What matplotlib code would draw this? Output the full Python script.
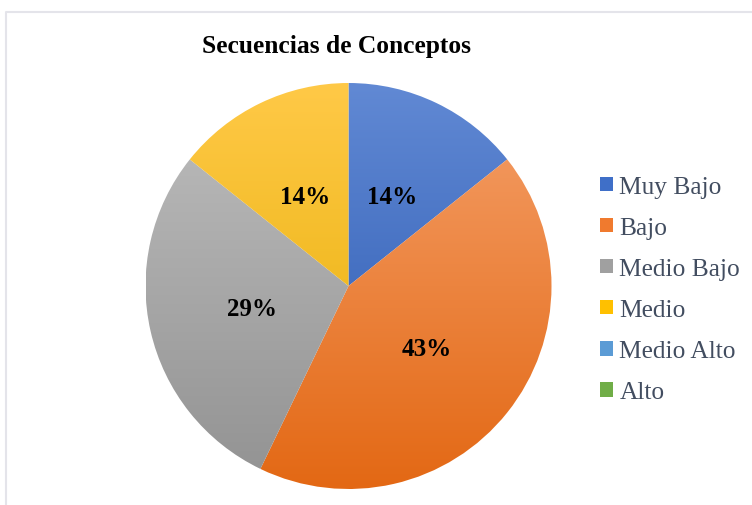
import matplotlib
matplotlib.use("Agg")
import matplotlib.pyplot as plt
import numpy as np
from matplotlib.colors import LinearSegmentedColormap, to_rgb
from matplotlib.patches import Patch
from matplotlib.lines import Line2D

title = "Secuencias de Conceptos"
categories = ["Muy Bajo", "Bajo", "Medio Bajo", "Medio", "Medio Alto", "Alto"]
values = [1, 3, 2, 1, 0, 0]
legend_colors = ["#3F6FC8", "#F07A2E", "#A0A0A0", "#FFC000", "#5B9BD5", "#70AD47"]
grad_top = ["#6189D4", "#F5A06A", "#BEBEBE", "#FFC947", "#7AAFE0", "#86BE60"]
grad_bot = ["#2655AE", "#E36814", "#929292", "#E4AC00", "#3E85C6", "#5C9A35"]

W, H = 752, 506
fig = plt.figure(figsize=(W / 100, H / 100), dpi=100)
fig.patch.set_facecolor("white")

# light frame
fy = 1 - 13 / H
fx = 6 / W
fig.add_artist(Line2D([fx, fx, 1.0], [0.0, fy, fy], transform=fig.transFigure,
                      color="#E4E4EA", lw=1.5))

cx, cy, r = 348.5, 287, 203
ax = fig.add_axes([(cx - r) / W, (H - cy - r) / H, 2 * r / W, 2 * r / H])

def fmt(p):
    return f"{p:.0f}%" if p > 0 else ""

wedges, texts, autotexts = ax.pie(values, startangle=90, counterclock=False,
                                  autopct=fmt, pctdistance=0.49, radius=1.0,
                                  textprops=dict(fontfamily="Liberation Serif",
                                                 fontweight="bold", fontsize=18,
                                                 color="black"))
ax.set_aspect("equal")
ax.axis("off")

grad = np.linspace(0, 1, 256).reshape(-1, 1)
for w, ct, cb in zip(wedges, grad_top, grad_bot):
    w.set_facecolor("none")
    w.set_edgecolor("none")
    cmap = LinearSegmentedColormap.from_list("g", [to_rgb(ct), to_rgb(cb)])
    im = ax.imshow(grad, cmap=cmap, extent=(-1, 1, -1, 1), origin="upper",
                   aspect="auto", zorder=w.get_zorder() - 0.1, interpolation="bilinear")
    im.set_clip_path(w)
for t in autotexts:
    t.set_zorder(5)
ax.set_xlim(-1, 1)
ax.set_ylim(-1, 1)

fig.text(336 / W, 1 - 53 / H, title, ha="center", va="baseline",
         fontfamily="Liberation Serif", fontweight="bold", fontsize=18.4, color="black")

handles = [Patch(facecolor=c, edgecolor="none") for c in legend_colors]
leg = fig.legend(handles, categories, loc="upper left",
                 bbox_to_anchor=(600 / W, 1 - 177 / H), frameon=False,
                 prop=dict(family="Liberation Serif", size=18.3),
                 handlelength=0.51, handleheight=0.51, handletextpad=0.25,
                 labelspacing=0.75, borderpad=0, borderaxespad=0)
for t in leg.get_texts():
    t.set_color("#424D60")

fig.savefig("out.png", dpi=100, facecolor="white")
